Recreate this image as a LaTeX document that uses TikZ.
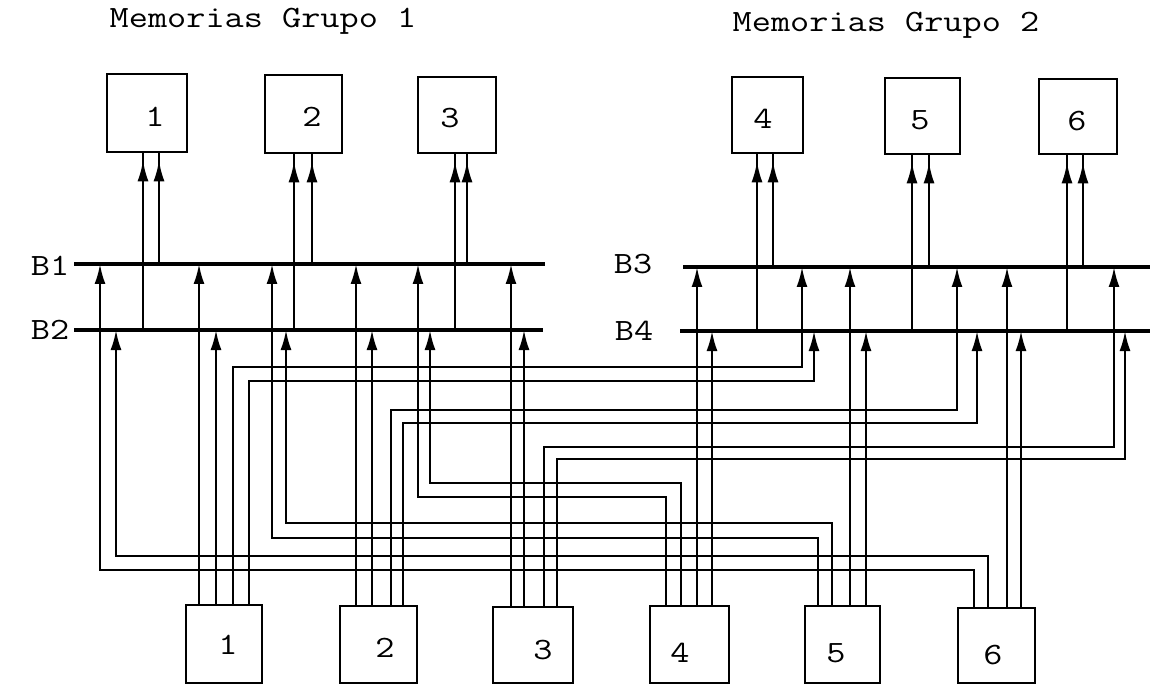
\documentclass[tikz,border=0pt]{standalone}
\usepackage{graphicx}
\usetikzlibrary{arrows.meta}
\newcommand{\tw}[1]{\scalebox{1.2}[1]{#1}}
\begin{document}
\begin{tikzpicture}[x=1pt,y=-1pt,
  box/.style={draw, line width=2.7pt, inner sep=0pt},
  txt/.style={inner sep=0pt, font=\ttfamily\fontsize{31}{31}\selectfont},
  bus/.style={line width=3.8pt},
  conn/.style={line width=2.3pt},
  arr/.style={conn, -{Latex[length=20pt,width=11pt]}},
  memarr/.style={conn, shorten >=7pt, -{Latex[length=21pt,width=11pt]}, postaction={draw, -, shorten >=0pt}},
]
\useasboundingbox (0,0) rectangle (1150,684);

% titles
\node[txt, anchor=base] (g1) at (263,28) {\tw{Memorias Grupo 1}};
\node[txt, anchor=base] (g2) at (886,32) {\tw{Memorias Grupo 2}};

% memory boxes
\node[box, minimum width=80pt, minimum height=78pt] (m1) at (147,113) {};
\node[box, minimum width=77pt, minimum height=78pt] (m2) at (303.5,114) {};
\node[box, minimum width=78pt, minimum height=76pt] (m3) at (457,115) {};
\node[box, minimum width=71pt, minimum height=76pt] (m4) at (767.5,115) {};
\node[box, minimum width=75pt, minimum height=76pt] (m5) at (922.5,116) {};
\node[box, minimum width=78pt, minimum height=75pt] (m6) at (1078,116.5) {};
\node[txt] (m1l) at (155,117) {\tw{1}};
\node[txt] (m2l) at (312,117) {\tw{2}};
\node[txt] (m3l) at (450,118) {\tw{3}};
\node[txt] (m4l) at (763,119) {\tw{4}};
\node[txt] (m5l) at (920,120) {\tw{5}};
\node[txt] (m6l) at (1077,121) {\tw{6}};

% processor boxes
\node[box, minimum width=76pt, minimum height=78pt] (p1) at (224,644) {};
\node[box, minimum width=77pt, minimum height=77pt] (p2) at (378.5,644.5) {};
\node[box, minimum width=80pt, minimum height=76pt] (p3) at (533,645) {};
\node[box, minimum width=79pt, minimum height=77pt] (p4) at (689.5,644.5) {};
\node[box, minimum width=75pt, minimum height=77pt] (p5) at (842.5,644.5) {};
\node[box, minimum width=77pt, minimum height=75pt] (p6) at (996.5,645.5) {};
\node[txt] (p1l) at (228,645) {\tw{1}};
\node[txt] (p2l) at (385,648) {\tw{2}};
\node[txt] (p3l) at (543,650) {\tw{3}};
\node[txt] (p4l) at (680,653) {\tw{4}};
\node[txt] (p5l) at (836,653) {\tw{5}};
\node[txt] (p6l) at (993,655) {\tw{6}};

% bus labels
\node[txt] (lb1) at (50,266) {\tw{B1}};
\node[txt] (lb2) at (50,330) {\tw{B2}};
\node[txt] (lb3) at (633,264) {\tw{B3}};
\node[txt] (lb4) at (634,331) {\tw{B4}};

% buses
\coordinate (b1) at (0,264); \coordinate (b2) at (0,330);
\coordinate (b3) at (0,267); \coordinate (b4) at (0,331);
\coordinate (b1w) at (74,264);  \coordinate (b1e) at (545,264);
\coordinate (b2w) at (74,330);  \coordinate (b2e) at (543,330);
\coordinate (b3w) at (683,267); \coordinate (b3e) at (1150,267);
\coordinate (b4w) at (680,331); \coordinate (b4e) at (1150,331);
\draw[bus] (b1w) -- (b1e);
\draw[bus] (b2w) -- (b2e);
\draw[bus] (b3w) -- (b3e);
\draw[bus] (b4w) -- (b4e);

% bus -> memory
\coordinate (ma1) at (143,0);  \coordinate (mb1) at (159,0);
\coordinate (ma2) at (294,0);  \coordinate (mb2) at (312,0);
\coordinate (ma3) at (455,0);  \coordinate (mb3) at (467,0);
\coordinate (ma4) at (757,0);  \coordinate (mb4) at (773,0);
\coordinate (ma5) at (912,0);  \coordinate (mb5) at (929,0);
\coordinate (ma6) at (1067,0); \coordinate (mb6) at (1083,0);
\draw[memarr] (ma1 |- b2) -- (ma1 |- m1.south);
\draw[memarr] (mb1 |- b1) -- (mb1 |- m1.south);
\draw[memarr] (ma2 |- b2) -- (ma2 |- m2.south);
\draw[memarr] (mb2 |- b1) -- (mb2 |- m2.south);
\draw[memarr] (ma3 |- b2) -- (ma3 |- m3.south);
\draw[memarr] (mb3 |- b1) -- (mb3 |- m3.south);
\draw[memarr] (ma4 |- b4) -- (ma4 |- m4.south);
\draw[memarr] (mb4 |- b3) -- (mb4 |- m4.south);
\draw[memarr] (ma5 |- b4) -- (ma5 |- m5.south);
\draw[memarr] (mb5 |- b3) -- (mb5 |- m5.south);
\draw[memarr] (ma6 |- b4) -- (ma6 |- m6.south);
\draw[memarr] (mb6 |- b3) -- (mb6 |- m6.south);

% processor taps
\coordinate (p1a) at (199,0); \coordinate (p1b) at (216,0); \coordinate (p1c) at (233,0); \coordinate (p1d) at (249,0);
\coordinate (p2a) at (356,0); \coordinate (p2b) at (372,0); \coordinate (p2c) at (391,0); \coordinate (p2d) at (403,0);
\coordinate (p3a) at (511,0); \coordinate (p3b) at (524,0); \coordinate (p3c) at (544,0); \coordinate (p3d) at (557,0);
\coordinate (p4a) at (666,0); \coordinate (p4b) at (681,0); \coordinate (p4c) at (697,0); \coordinate (p4d) at (712,0);
\coordinate (p5a) at (818,0); \coordinate (p5b) at (832,0); \coordinate (p5c) at (850,0); \coordinate (p5d) at (866,0);
\coordinate (p6a) at (974,0); \coordinate (p6b) at (988,0); \coordinate (p6c) at (1007,0); \coordinate (p6d) at (1021,0);

% route corners
\coordinate (r1c) at (802,367);  \coordinate (r1d) at (814,381);
\coordinate (r2c) at (957,410);  \coordinate (r2d) at (977,423);
\coordinate (r3c) at (1114,447); \coordinate (r3d) at (1125,459);
\coordinate (r4a) at (418,497);  \coordinate (r4b) at (430,483);
\coordinate (r5a) at (272,538);  \coordinate (r5b) at (286,523);
\coordinate (r6a) at (100,570);  \coordinate (r6b) at (116,556);

% processor 1
\draw[arr] (p1a |- p1.north) -- (p1a |- b1);
\draw[arr] (p1b |- p1.north) -- (p1b |- b2);
\draw[arr] (p1c |- p1.north) |- (r1c) -- (r1c |- b3);
\draw[arr] (p1d |- p1.north) |- (r1d) -- (r1d |- b4);
% processor 2
\draw[arr] (p2a |- p2.north) -- (p2a |- b1);
\draw[arr] (p2b |- p2.north) -- (p2b |- b2);
\draw[arr] (p2c |- p2.north) |- (r2c) -- (r2c |- b3);
\draw[arr] (p2d |- p2.north) |- (r2d) -- (r2d |- b4);
% processor 3
\draw[arr] (p3a |- p3.north) -- (p3a |- b1);
\draw[arr] (p3b |- p3.north) -- (p3b |- b2);
\draw[arr] (p3c |- p3.north) |- (r3c) -- (r3c |- b3);
\draw[arr] (p3d |- p3.north) |- (r3d) -- (r3d |- b4);
% processor 4
\draw[arr] (p4a |- p4.north) |- (r4a) -- (r4a |- b1);
\draw[arr] (p4b |- p4.north) |- (r4b) -- (r4b |- b2);
\draw[arr] (p4c |- p4.north) -- (p4c |- b3);
\draw[arr] (p4d |- p4.north) -- (p4d |- b4);
% processor 5
\draw[arr] (p5a |- p5.north) |- (r5a) -- (r5a |- b1);
\draw[arr] (p5b |- p5.north) |- (r5b) -- (r5b |- b2);
\draw[arr] (p5c |- p5.north) -- (p5c |- b3);
\draw[arr] (p5d |- p5.north) -- (p5d |- b4);
% processor 6
\draw[arr] (p6a |- p6.north) |- (r6a) -- (r6a |- b1);
\draw[arr] (p6b |- p6.north) |- (r6b) -- (r6b |- b2);
\draw[arr] (p6c |- p6.north) -- (p6c |- b3);
\draw[arr] (p6d |- p6.north) -- (p6d |- b4);
\end{tikzpicture}
\end{document}
